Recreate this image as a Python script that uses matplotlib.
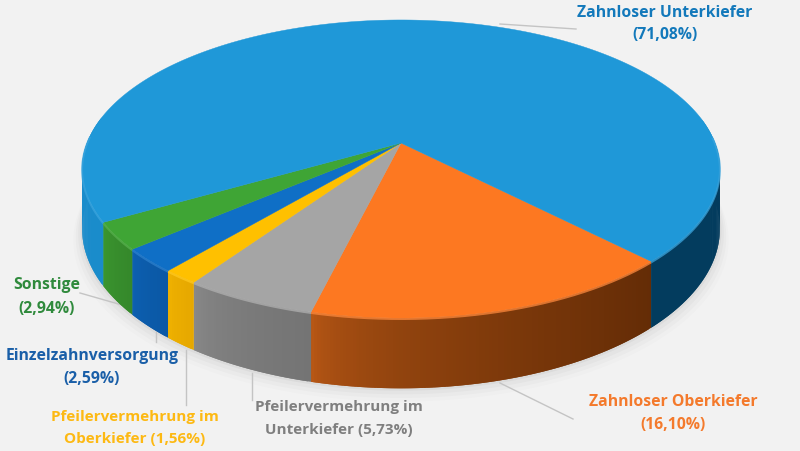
import numpy as np
import matplotlib
matplotlib.use('Agg')
import matplotlib.pyplot as plt
from matplotlib.colors import to_rgb
from matplotlib.patches import Polygon

plt.rcParams['font.family'] = ['Open Sans', 'DejaVu Sans']

# Share per slice in percent, clockwise from the front right
labels = ['Zahnloser Oberkiefer', 'Pfeilervermehrung im\nUnterkiefer', 'Pfeilervermehrung im\nOberkiefer',
          'Einzelzahnversorgung', 'Sonstige', 'Zahnloser Unterkiefer']
shares = [16.10, 5.73, 1.56, 2.59, 2.94, 71.08]
pct_text = ['16,10%', '5,73%', '1,56%', '2,59%', '2,94%', '71,08%']

top_colors = ['#fd7821', '#a5a5a5', '#ffc000', '#0f6fc6', '#3fa535', '#1f98d8']
text_colors = ['#f47a2c', '#7f7f7f', '#fdb913', '#1a5fa8', '#2f8a3c', '#1379bb']
# wall colour at the left end and right end of each slice
wall_left = ['#bd5a16', '#8a8a8a', '#f2b400', '#0d62b4', '#3c9a30', '#1a8ccb']
wall_right = ['#642c06', '#747474', '#e6a800', '#0b58a5', '#35882b', '#033c5e']

# pie geometry, in pixels of the 800x451 picture
CX, CY = 401, 143
RX, RY = 314, 144.5
TILT = 0.1745
DEPTH = 58
START = 45.8


def project(angle_deg, drop=0.0):
    t = np.radians(angle_deg)
    u, v = np.cos(t), np.sin(t)
    w = 1 - TILT * v
    return CX + RX * u / w, CY + RY * v / w + drop / w


def shade(c, f):
    return tuple(np.array(to_rgb(c)) * f + (1 - f) * np.array([1, 1, 1]))


fig = plt.figure(figsize=(8, 4.51), dpi=100, facecolor='#f2f2f2')
ax = fig.add_axes([0, 0, 1, 1])
ax.set_xlim(0, 800)
ax.set_ylim(451, 0)
ax.axis('off')

edges = START + np.cumsum([0] + shares) * 3.6

# soft shadow under the pie
ring = np.linspace(0, 360, 361)
for grow, alpha in [(11, 0.012), (8, 0.018), (5, 0.025), (2, 0.035)]:
    x, y = project(ring, DEPTH + grow)
    x = CX + (x - CX) * (1 + grow / 400)
    ax.add_patch(Polygon(np.column_stack([x, y]), fc='#000000', ec='none', alpha=alpha, zorder=1))

# side wall, only the front half shows
for i in range(len(shares)):
    a0, a1 = edges[i], edges[i + 1]
    steps = max(int((a1 - a0) / 0.5), 2)
    grid = np.linspace(a0, a1, steps + 1)
    left_c = np.array(to_rgb(wall_left[i]))
    right_c = np.array(to_rgb(wall_right[i]))
    for j in range(steps):
        # each strip runs on under the next one, so no seams show
        s0, s1 = grid[j], grid[min(j + 2, steps)]
        m = (grid[j] + grid[j + 1]) / 2 % 360
        if m > 190 and m < 350:
            continue
        if i == 5:
            f = 0.0 if m > 90 else 1.0
        else:
            f = (1 - (m - a0) / (a1 - a0)) ** 0.5
        col = left_c * (1 - f) + right_c * f
        xt0, yt0 = project(s0)
        xt1, yt1 = project(s1)
        xb0, yb0 = project(s0, DEPTH)
        xb1, yb1 = project(s1, DEPTH)
        ax.add_patch(Polygon([(xt0, yt0), (xt1, yt1), (xb1, yb1), (xb0, yb0)],
                             fc=col, ec='none', zorder=2))

# top face
for i in range(len(shares)):
    arc = np.linspace(edges[i], edges[i + 1], max(int(shares[i] * 8), 12))
    x, y = project(arc)
    pts = np.column_stack([np.r_[CX, x], np.r_[CY, y]])
    ax.add_patch(Polygon(pts, fc=top_colors[i], ec=top_colors[i], lw=0.3, zorder=3))
    # lighter bevel along the front rim only
    front = np.sin(np.radians(arc)) > -0.05
    bx = np.where(front, x, np.nan)
    by = np.where(front, y + 1.0, np.nan)
    ax.plot(bx, by, color=shade(top_colors[i], 0.88), lw=1.4, alpha=0.75, zorder=4,
            solid_capstyle='butt')

# leader lines, from the pie out to the label
leaders = [
    ([500, 573], [383, 419]),
    ([252, 252], [373, 400]),
    ([186, 186], [350, 405]),
    ([156, 156], [332, 342]),
    ([80, 122], [293, 305]),
    ([500, 576], [24, 29]),
]
for lx, ly in leaders:
    ax.plot(lx, ly, color='#c4c4c4', lw=1, zorder=1.5)

# labels
label_pos = [(673, 402, 425), (339, 407, 430), (135, 417, 439), (92, 356, 379), (47, 285, 309), (665, 13, 35)]
label_size = [11.3, 11.0, 11.0, 11.3, 11.3, 11.3]
for i, (tx, y1, y2) in enumerate(label_pos):
    parts = labels[i].split('\n')
    kw = dict(ha='center', va='center', color=text_colors[i], fontweight='bold', fontsize=label_size[i], zorder=5)
    if len(parts) == 2:
        ax.text(tx, y1, parts[0], **kw)
        ax.text(tx, y2, parts[1] + ' (' + pct_text[i] + ')', **kw)
    else:
        ax.text(tx, y1, parts[0], **kw)
        ax.text(tx, y2, '(' + pct_text[i] + ')', **kw)

fig.savefig('out.png', dpi=100, facecolor=fig.get_facecolor())
